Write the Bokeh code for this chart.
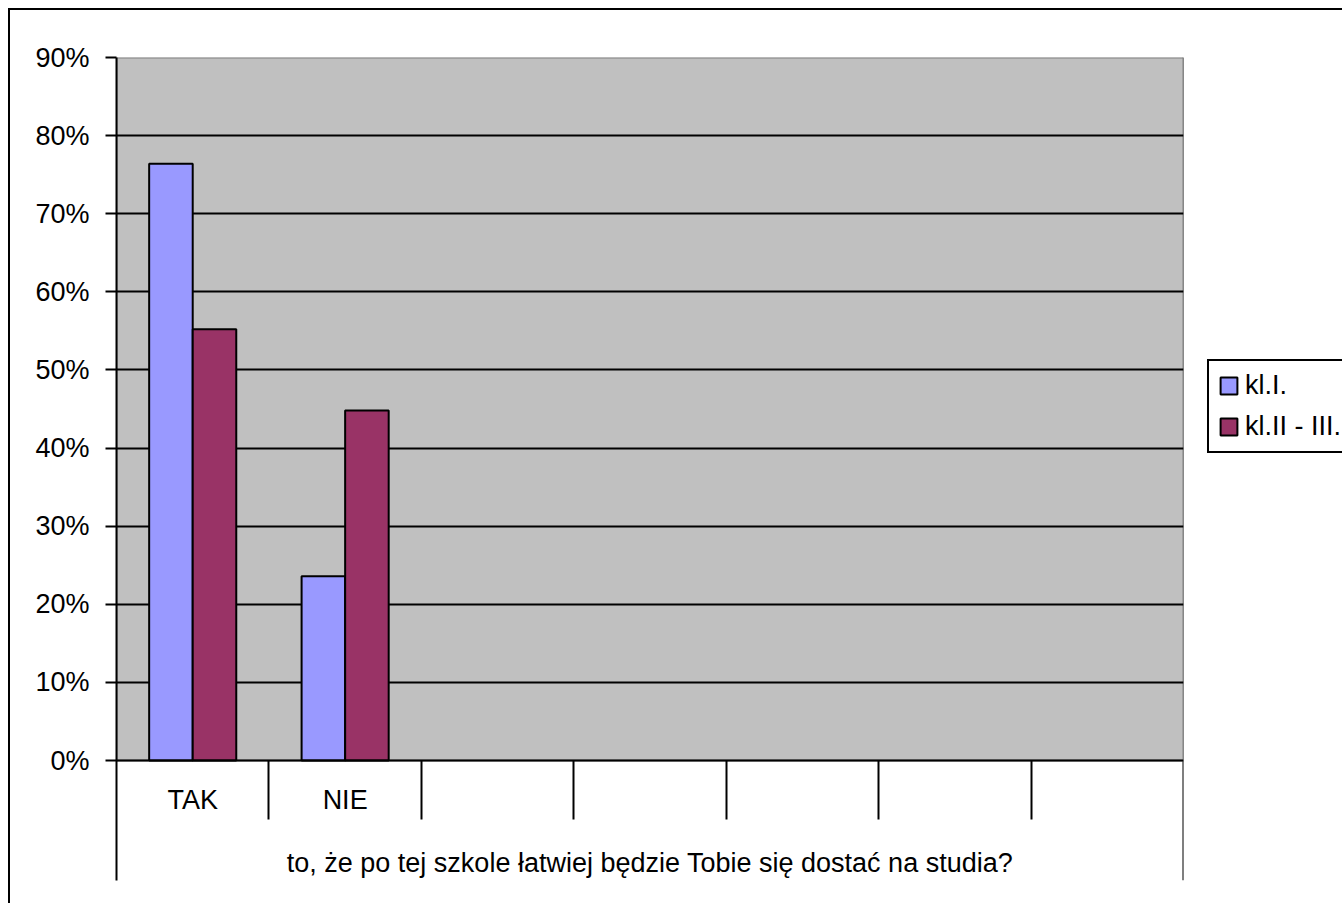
from bokeh.plotting import figure
from bokeh.layouts import row
from bokeh.models import (FactorRange, Range1d, LinearAxis, CategoricalAxis, FixedTicker,
                          NumeralTickFormatter, BoxAnnotation, Span, Legend, LegendItem,
                          ColumnDataSource)
from bokeh.transform import dodge
from bokeh.embed import file_html
from bokeh.resources import INLINE

# ---- data ----
categories = ["TAK", "NIE", " ", "  ", "   ", "    ", "     "]
answers = ["TAK", "NIE"]
series_names = ["kl.I.", "kl.II - III."]
series_colors = ["#9999FF", "#993366"]
kl_I = [0.764, 0.236]
kl_II_III = [0.552, 0.448]
group_label = "to, że po tej szkole łatwiej będzie Tobie się dostać na studia?"
y_ticks = [0.0, 0.1, 0.2, 0.3, 0.4, 0.5, 0.6, 0.7, 0.8, 0.9]

FONT = "Liberation Sans"
FS = "27px"
n = len(categories)
bw = 1 / 3.5

source = ColumnDataSource(data=dict(answer=answers, a=kl_I, b=kl_II_III))


def add_bars(fig, visible=True):
    ra = fig.vbar(x=dodge("answer", -bw / 2, range=fig.x_range), top="a", bottom=0, width=bw,
                  source=source, fill_color=series_colors[0], line_color="black",
                  line_width=2, visible=visible)
    rb = fig.vbar(x=dodge("answer", bw / 2, range=fig.x_range), top="b", bottom=0, width=bw,
                  source=source, fill_color=series_colors[1], line_color="black",
                  line_width=2, visible=visible)
    return ra, rb


# ---------------- main chart ----------------
p = figure(x_range=FactorRange(factors=categories, range_padding=0),
           y_range=Range1d(-0.1536, 0.9),
           width=1180, height=893,
           output_backend="svg", toolbar_location=None,
           x_axis_location=None,
           min_border_left=106, min_border_right=7,
           min_border_top=47, min_border_bottom=23)
p.outline_line_color = None
p.background_fill_color = "white"
p.border_fill_color = "white"

# plot area background + gridlines (numeric positions = synthetic category coordinates)
right_line = Span(location=n, dimension="height",
                  line_color="black", line_width=2, level="image")
p.add_layout(right_line)
area = BoxAnnotation(left=0, right=n, bottom=y_ticks[0], top=y_ticks[-1],
                     fill_color="#C0C0C0", fill_alpha=1.0,
                     line_color="#808080", line_width=2, line_alpha=1.0, level="image")
p.add_layout(area)

p.xgrid.visible = False
p.ygrid.ticker = FixedTicker(ticks=y_ticks[1:-1])
p.ygrid.grid_line_color = "black"
p.ygrid.grid_line_width = 2
p.ygrid.grid_line_alpha = 1.0

add_bars(p)

# y axis
ya = p.yaxis[0]
ya.ticker = FixedTicker(ticks=y_ticks)
ya.formatter = NumeralTickFormatter(format="0%")
ya.axis_line_color = "black"
ya.axis_line_width = 2
ya.major_tick_out = 11
ya.major_tick_in = 0
ya.major_tick_line_width = 2
ya.major_tick_line_color = "black"
ya.minor_tick_line_color = None
ya.major_label_text_font = FONT
ya.major_label_text_font_size = FS
ya.major_label_text_color = "black"
ya.major_label_standoff = 16

# category axis at y = 0
xa = CategoricalAxis(fixed_location=0, axis_label=group_label)
xa.axis_line_color = "black"
xa.axis_line_width = 2
xa.major_tick_line_color = None
xa.major_tick_out = 0
xa.major_tick_in = 0
xa.minor_tick_line_color = None
xa.major_label_text_font = FONT
xa.major_label_text_font_size = FS
xa.major_label_text_color = "black"
xa.major_label_standoff = 24
xa.axis_label_text_font = FONT
xa.axis_label_text_font_size = FS
xa.axis_label_text_font_style = "normal"
xa.axis_label_text_color = "black"
xa.axis_label_standoff = 30
p.add_layout(xa, "below")

# category boundary ticks
ta = LinearAxis(fixed_location=0, ticker=FixedTicker(ticks=list(range(1, n))))
ta.axis_line_color = None
ta.major_tick_out = 59
ta.major_tick_in = 0
ta.major_tick_line_width = 2
ta.major_tick_line_color = "black"
ta.minor_tick_line_color = None
ta.major_label_text_color = None
ta.major_label_text_font_size = "0px"
p.add_layout(ta, "below")

# ---------------- legend strip ----------------
q = figure(x_range=FactorRange(factors=categories, range_padding=0),
           y_range=Range1d(0, 1),
           width=152, height=893,
           output_backend="svg", toolbar_location=None,
           x_axis_location=None, y_axis_location=None,
           min_border=0)
q.outline_line_color = None
q.grid.visible = False
q.background_fill_color = "white"
q.border_fill_color = "white"
qa, qb = add_bars(q, visible=False)

legend = Legend(items=[LegendItem(label=series_names[0], renderers=[qa]),
                       LegendItem(label=series_names[1], renderers=[qb])],
                location=(17, 427))
legend.border_line_color = "black"
legend.border_line_width = 2
legend.border_line_alpha = 1.0
legend.background_fill_color = "white"
legend.background_fill_alpha = 1.0
legend.padding = 9
legend.spacing = 10
legend.margin = 0
legend.glyph_width = 21
legend.glyph_height = 21
legend.label_height = 27
legend.label_standoff = 6
legend.label_text_font = FONT
legend.label_text_font_size = FS
legend.label_text_color = "black"
q.add_layout(legend)

layout = row(p, q, spacing=0)
layout.styles = {"margin-top": "8px", "margin-left": "8px",
                 "border-top": "2px solid black", "border-left": "2px solid black"}

open("out.html", "w").write(file_html(layout, INLINE))
